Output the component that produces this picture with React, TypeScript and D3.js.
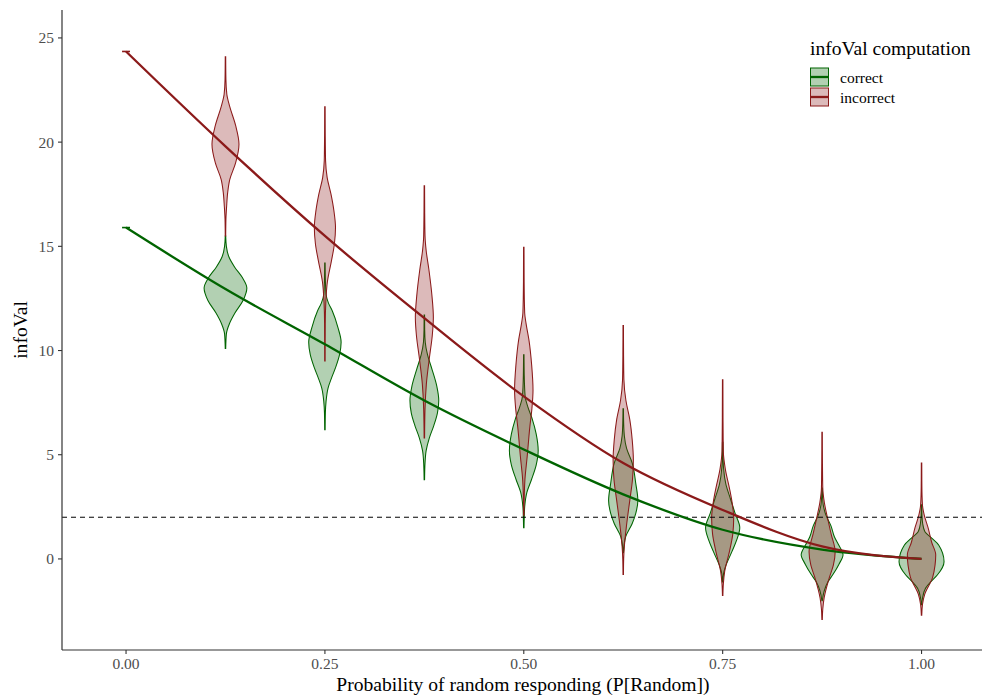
import React from 'react';
import * as d3 from 'd3';

// x positions of the lines and the violins
const lineX = [0, 0.125, 0.25, 0.375, 0.5, 0.625, 0.75, 0.875, 1];
const violinX = [0.125, 0.25, 0.375, 0.5, 0.625, 0.75, 0.875, 1];

// expected infoVal curves
const correctLine = [15.9, 12.95, 10.3, 7.6, 5.25, 3.1, 1.4, 0.45, 0.0];
const incorrectLine = [24.35, 19.8, 15.5, 11.55, 7.8, 4.6, 2.35, 0.6, 0.0];

// violin profiles: [infoVal, relative density], bottom to top
const correctViolins: number[][][] = [
  [[10.1, 0.01], [10.8, 0.04], [11.3, 0.18], [11.8, 0.42], [12.4, 0.78], [13.0, 0.95], [13.5, 0.75], [14.0, 0.41], [14.5, 0.15], [15.0, 0.04], [15.5, 0.01]],
  [[6.2, 0.01], [7.0, 0.02], [7.55, 0.05], [8.2, 0.14], [8.7, 0.3], [9.2, 0.48], [9.8, 0.65], [10.4, 0.72], [11.1, 0.58], [11.9, 0.33], [12.3, 0.15], [12.7, 0.05], [13.4, 0.02], [14.2, 0.01]],
  [[3.8, 0.01], [4.6, 0.03], [5.2, 0.08], [5.8, 0.22], [6.4, 0.42], [7.0, 0.58], [7.6, 0.64], [8.3, 0.55], [9.1, 0.34], [9.8, 0.14], [10.4, 0.04], [11.0, 0.015], [11.7, 0.01]],
  [[1.5, 0.01], [2.0, 0.02], [2.5, 0.04], [3.2, 0.14], [3.8, 0.34], [4.5, 0.55], [5.2, 0.64], [6.0, 0.55], [6.7, 0.38], [7.3, 0.18], [7.8, 0.06], [8.8, 0.02], [9.8, 0.01]],
  [[0.3, 0.01], [0.7, 0.04], [1.07, 0.11], [1.7, 0.4], [2.2, 0.56], [2.8, 0.65], [3.6, 0.56], [4.6, 0.4], [5.3, 0.15], [5.9, 0.05], [6.5, 0.02], [7.2, 0.01]],
  [[-1.1, 0.01], [-0.7, 0.04], [-0.45, 0.1], [0.35, 0.41], [0.9, 0.62], [1.5, 0.76], [2.2, 0.55], [2.9, 0.34], [3.6, 0.14], [4.35, 0.04], [5.0, 0.015], [5.6, 0.01]],
  [[-2.0, 0.01], [-1.55, 0.09], [-1.1, 0.26], [-0.75, 0.48], [-0.25, 0.75], [0.2, 0.93], [0.7, 0.72], [1.05, 0.55], [1.6, 0.39], [2.1, 0.17], [2.6, 0.05], [3.0, 0.02], [3.4, 0.01]],
  [[-2.2, 0.01], [-1.9, 0.04], [-1.4, 0.18], [-1.05, 0.45], [-0.77, 0.7], [-0.13, 1.0], [0.67, 0.76], [1.0, 0.45], [1.3, 0.15], [1.7, 0.05], [2.1, 0.02], [2.6, 0.01]],
];

const incorrectViolins: number[][][] = [
  [[15.5, 0.01], [16.3, 0.02], [16.9, 0.05], [17.6, 0.1], [18.2, 0.19], [19.0, 0.45], [19.9, 0.6], [20.8, 0.45], [21.7, 0.19], [22.3, 0.06], [23.0, 0.02], [24.1, 0.01]],
  [[9.5, 0.01], [11.3, 0.015], [12.3, 0.04], [13.3, 0.11], [14.3, 0.29], [15.1, 0.42], [15.9, 0.47], [16.7, 0.4], [17.5, 0.27], [18.3, 0.1], [19.1, 0.03], [20.3, 0.015], [21.7, 0.01]],
  [[5.8, 0.01], [7.2, 0.03], [8.4, 0.09], [9.7, 0.23], [10.7, 0.35], [11.6, 0.4], [12.6, 0.34], [13.9, 0.2], [14.8, 0.08], [15.5, 0.03], [16.7, 0.015], [17.9, 0.01]],
  [[2.1, 0.01], [3.0, 0.02], [3.8, 0.05], [4.9, 0.15], [6.35, 0.27], [7.2, 0.36], [8.1, 0.41], [9.3, 0.35], [10.5, 0.23], [11.3, 0.1], [11.8, 0.04], [13.3, 0.015], [14.95, 0.01]],
  [[-0.75, 0.01], [0.0, 0.02], [0.6, 0.05], [1.55, 0.14], [2.8, 0.29], [3.8, 0.41], [4.75, 0.45], [5.7, 0.4], [6.7, 0.29], [7.6, 0.12], [8.6, 0.03], [9.8, 0.015], [11.2, 0.01]],
  [[-1.75, 0.01], [-1.2, 0.03], [-0.6, 0.09], [0.35, 0.3], [1.2, 0.45], [1.97, 0.49], [2.7, 0.42], [3.4, 0.3], [4.3, 0.12], [5.15, 0.03], [6.8, 0.015], [8.6, 0.01]],
  [[-2.9, 0.01], [-2.4, 0.03], [-1.87, 0.09], [-0.9, 0.32], [-0.3, 0.5], [0.35, 0.58], [1.2, 0.4], [1.97, 0.24], [2.7, 0.1], [3.4, 0.03], [4.7, 0.015], [6.08, 0.01]],
  [[-2.7, 0.01], [-2.2, 0.04], [-1.7, 0.14], [-0.9, 0.49], [-0.3, 0.6], [0.2, 0.63], [0.8, 0.45], [1.5, 0.29], [2.1, 0.12], [2.6, 0.04], [3.5, 0.015], [4.6, 0.01]],
];

const xTicks = [0, 0.25, 0.5, 0.75, 1];
const yTicks = [0, 5, 10, 15, 20, 25];
const threshold = 2;

const groups = ['correct', 'incorrect'];
const groupColors = ['#006400', '#8B1A1A'];

const FONT = '"Liberation Serif", "DejaVu Serif", serif';

export default function App() {
  const width = 984;
  const height = 695;
  const panel = { left: 62, right: 982, top: 10, bottom: 650 };

  const x = d3.scaleLinear().domain([-0.0805, 1.076]).range([panel.left, panel.right]);
  const y = d3.scaleLinear().domain([-4.37, 26.34]).range([panel.bottom, panel.top]);
  // density -> half width in x units
  const w = d3.scaleLinear().domain([0, 1]).range([0, 0.0283]);

  const violinPath = (pos: number, prof: number[][]) =>
    d3.area<number[]>()
      .y(d => y(d[0]))
      .x0(d => x(pos - w(d[1])))
      .x1(d => x(pos + w(d[1])))
      .curve(d3.curveMonotoneY)(prof) || '';

  const line = d3.line<number>()
    .x((_, i) => x(lineX[i]))
    .y(d => y(d))
    .curve(d3.curveMonotoneX);

  const violinSets = [correctViolins, incorrectViolins];
  const lineSets = [correctLine, incorrectLine];

  return (
    <svg width={width} height={height} style={{ position: 'absolute', left: 0, top: 0, background: '#fff' }}
      fontFamily={FONT}>
      {/* violins */}
      {violinSets.map((set, gi) => (
        <g key={'v' + gi}>
          {set.map((prof, i) => (
            <path key={i} d={violinPath(violinX[i], prof)}
              fill={groupColors[gi]} fillOpacity={0.3}
              stroke={groupColors[gi]} strokeWidth={1.05} />
          ))}
        </g>
      ))}

      {/* threshold */}
      <line x1={panel.left} x2={panel.right} y1={y(threshold)} y2={y(threshold)}
        stroke="#000" strokeWidth={1} strokeDasharray="5,4" />

      {/* expected curves */}
      {lineSets.map((vals, gi) => (
        <g key={'l' + gi}>
          <path d={line(vals) || ''} fill="none" stroke={groupColors[gi]} strokeWidth={2.3} />
          <line x1={x(lineX[0] - 0.005)} x2={x(lineX[0] + 0.005)} y1={y(vals[0])} y2={y(vals[0])}
            stroke={groupColors[gi]} strokeWidth={1.6} />
        </g>
      ))}

      {/* axes */}
      <line x1={panel.left} x2={panel.left} y1={panel.top} y2={panel.bottom} stroke="#333" strokeWidth={1.2} />
      <line x1={panel.left} x2={panel.right} y1={panel.bottom} y2={panel.bottom} stroke="#333" strokeWidth={1.2} />
      {yTicks.map(t => (
        <g key={'yt' + t}>
          <line x1={panel.left - 4} x2={panel.left} y1={y(t)} y2={y(t)} stroke="#333" strokeWidth={1.1} />
          <text x={panel.left - 8} y={y(t)} dy="0.35em" textAnchor="end" fontSize={15.5} fill="#4d4d4d">{t}</text>
        </g>
      ))}
      {xTicks.map(t => (
        <g key={'xt' + t}>
          <line x1={x(t)} x2={x(t)} y1={panel.bottom} y2={panel.bottom + 4} stroke="#333" strokeWidth={1.1} />
          <text x={x(t)} y={669} textAnchor="middle" fontSize={15.5} fill="#4d4d4d">{t.toFixed(2)}</text>
        </g>
      ))}
      <text x={(panel.left + panel.right) / 2 + 1} y={690.5} textAnchor="middle" fontSize={19.6}>
        Probability of random responding (P[Random])
      </text>
      <text transform={`translate(27,${(panel.top + panel.bottom) / 2}) rotate(-90)`} textAnchor="middle" fontSize={19.6}>
        infoVal
      </text>

      {/* legend */}
      <text x={810} y={55} fontSize={19.6}>infoVal computation</text>
      {groups.map((g, i) => (
        <g key={g} transform={`translate(810,${67.5 + i * 20})`}>
          <rect x={0.5} y={0.5} width={18} height={18} fill={groupColors[i]} fillOpacity={0.3}
            stroke={groupColors[i]} strokeWidth={1} />
          <line x1={0.5} x2={18.5} y1={9.5} y2={9.5} stroke={groupColors[i]} strokeWidth={2.3} />
          <text x={30} y={15} fontSize={15.5}>{g}</text>
        </g>
      ))}
    </svg>
  );
}
